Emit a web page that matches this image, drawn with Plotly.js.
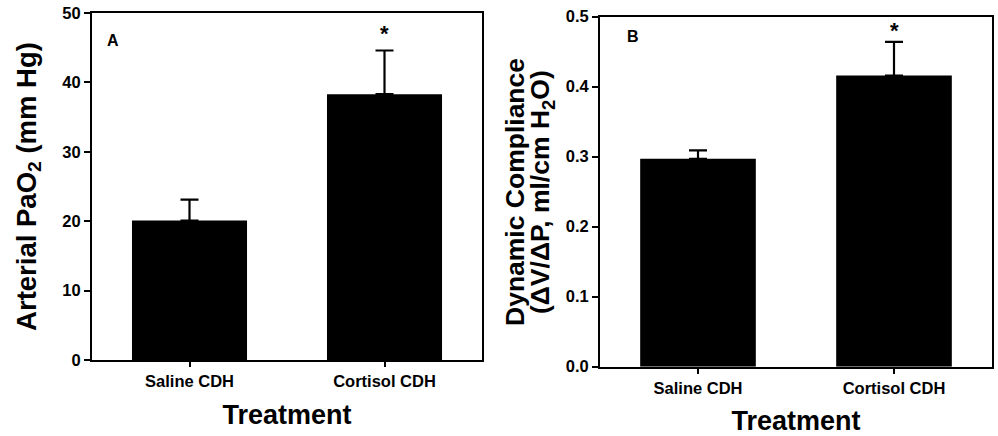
<!DOCTYPE html>
<html><head><meta charset="utf-8">
<script src="https://cdn.plot.ly/plotly-3.0.1.min.js"></script>
<style>html,body{margin:0;padding:0;background:#fff}</style>
</head><body><div id="chart" style="width:998px;height:436px"></div>
<script>
const categories = ["Saline CDH", "Cortisol CDH"];
const paO2 = [20.1, 38.3];
const paO2Err = [3.0, 6.3];
const compliance = [0.297, 0.416];
const complianceErr = [0.012, 0.048];
const sigMarks = ["", "*"];
const yTicksA = [0, 10, 20, 30, 40, 50];
const yTicksB = [0, 0.1, 0.2, 0.3, 0.4, 0.5];

const FONT = "Liberation Sans, Arial, sans-serif";
const tickFont = {family: FONT, size: 16.5, color: "#000", weight: "bold"};
const titleFont = {family: FONT, size: 27, color: "#000", weight: "bold"};
const yTitleFontA = {family: FONT, size: 27.5, color: "#000", weight: "bold"};
const yTitleFontB = {family: FONT, size: 26.5, color: "#000", weight: "bold"};
const b = s => "<b>" + s + "</b>";

function barTrace(vals, errs, xa, ya) {
  return {
    type: "bar", x: categories, y: vals, xaxis: xa, yaxis: ya,
    width: 0.59, marker: {color: "#000", line: {width: 0}},
    error_y: {type: "data", array: errs, arrayminus: errs.map(() => 0), symmetric: false,
      color: "#000", thickness: 2.2, width: 9},
    showlegend: false, hoverinfo: "none"
  };
}

const traces = [
  barTrace(paO2, paO2Err, "x", "y"),
  barTrace(compliance, complianceErr, "x2", "y2")
];

const axCommon = {
  showline: true, linecolor: "#000", linewidth: 2, mirror: true,
  ticks: "outside", ticklen: 6, tickwidth: 2, tickcolor: "#000",
  showgrid: false, zeroline: false, tickfont: tickFont, fixedrange: true
};

const annotations = [];
categories.forEach((c, i) => {
  if (sigMarks[i]) {
    annotations.push({xref: "x", yref: "y", x: c, y: paO2[i] + paO2Err[i], text: b(sigMarks[i]),
      showarrow: false, yanchor: "bottom", yshift: 2, font: {family: FONT, size: 22, color: "#000"}});
    annotations.push({xref: "x2", yref: "y2", x: c, y: compliance[i] + complianceErr[i], text: b(sigMarks[i]),
      showarrow: false, yanchor: "bottom", yshift: -3, font: {family: FONT, size: 22, color: "#000"}});
  }
});
annotations.push({xref: "paper", yref: "paper", x: 113/998, y: 1 - 40/436, text: b("A"), showarrow: false,
  xanchor: "center", yanchor: "middle", font: {family: FONT, size: 16, color: "#000"}});
annotations.push({xref: "paper", yref: "paper", x: 633/998, y: 1 - 37/436, text: b("B"), showarrow: false,
  xanchor: "center", yanchor: "middle", font: {family: FONT, size: 16, color: "#000"}});
// two-line y title of panel B
annotations.push({xref: "paper", yref: "paper", x: 515/998, y: 1 - 192/436, text: b("Dynamic Compliance"),
  textangle: -90, showarrow: false, xanchor: "center", yanchor: "middle", font: yTitleFontB});
annotations.push({xref: "paper", yref: "paper", x: 542/998, y: 1 - 192/436, text: b("(ΔV/ΔP, ml/cm H<sub>2</sub>O)"),
  textangle: -90, showarrow: false, xanchor: "center", yanchor: "middle", font: yTitleFontB});

const layout = {
  width: 998, height: 436,
  margin: {l: 0, r: 0, t: 0, b: 0},
  paper_bgcolor: "#fff", plot_bgcolor: "#fff",
  xaxis: Object.assign({}, axCommon, {domain: [92/998, 482/998], anchor: "y", range: [-0.5, 1.5],
    ticklen: 5, tickvals: categories, ticktext: categories.map(b),
    title: {text: b("Treatment"), font: titleFont, standoff: 16}}),
  yaxis: Object.assign({}, axCommon, {domain: [1 - 360/436, 1 - 13/436], anchor: "x", range: [0, 50],
    tickvals: yTicksA, ticktext: yTicksA.map(v => b(String(v))),
    title: {text: b("Arterial PaO<sub>2</sub> (mm Hg)"), font: yTitleFontA, standoff: 18}}),
  xaxis2: Object.assign({}, axCommon, {domain: [600/998, 992/998], anchor: "y2", range: [-0.5, 1.5],
    ticklen: 5, tickvals: categories, ticktext: categories.map(b),
    title: {text: b("Treatment"), font: titleFont, standoff: 17}}),
  yaxis2: Object.assign({}, axCommon, {domain: [1 - 366.7/436, 1 - 16.7/436], anchor: "x2", range: [0, 0.5],
    tickvals: yTicksB, ticktext: yTicksB.map(v => b(v.toFixed(1)))}),
  annotations: annotations
};

Plotly.newPlot("chart", traces, layout, {displayModeBar: false, staticPlot: true});
</script></body></html>
